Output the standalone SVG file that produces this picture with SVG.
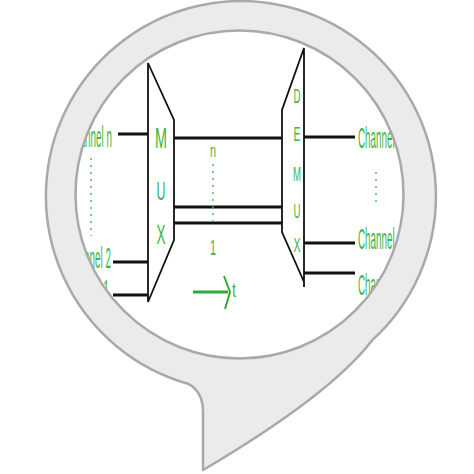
<svg xmlns="http://www.w3.org/2000/svg" width="474" height="474" viewBox="0 0 474 474">
<style>
.g{fill:#3db54a;font-family:"Liberation Sans",Arial,sans-serif}
.c{fill:#3db54a;font-family:"Liberation Sans",Arial,sans-serif;font-size:29px}
.w{stroke:#111;stroke-width:3.2;fill:none}
.m{stroke:#111;stroke-width:3;fill:none}
.o{stroke:#111;stroke-width:1.8;fill:none;stroke-linejoin:miter}
.d{stroke:#3db54a;stroke-width:1.3;stroke-dasharray:2 5;fill:none}
</style>
<defs>
<clipPath id="inner"><circle cx="239.5" cy="194.5" r="164"/></clipPath>
</defs>
<rect width="474" height="474" fill="#fff"/>
<g clip-path="url(#inner)">
<g id="mux">
<path class="o" d="M148,63 L174,120 L174,240 L148,302 Z"/>
<text class="g" font-size="29" x="155" y="148" textLength="12" lengthAdjust="spacingAndGlyphs">M</text>
<text class="g" font-size="25" x="156.5" y="200" textLength="9" lengthAdjust="spacingAndGlyphs">U</text>
<text class="g" font-size="27" x="156.5" y="244" textLength="9" lengthAdjust="spacingAndGlyphs">X</text>
</g>
<g id="demux">
<path class="o" d="M304,48 L282,110 L282,232 L304,282 Z M304,282 L304,287"/>
<text class="g" font-size="21" x="293.5" y="103" textLength="7" lengthAdjust="spacingAndGlyphs">D</text>
<text class="g" font-size="21" x="293.5" y="141" textLength="7" lengthAdjust="spacingAndGlyphs">E</text>
<text class="g" font-size="21" x="293" y="181" textLength="8" lengthAdjust="spacingAndGlyphs">M</text>
<text class="g" font-size="21" x="293.5" y="218" textLength="7" lengthAdjust="spacingAndGlyphs">U</text>
<text class="g" font-size="21" x="293.5" y="252" textLength="7" lengthAdjust="spacingAndGlyphs">X</text>
</g>
<g id="in-n"><text class="c" transform="translate(67,147) scale(0.34,1)">Channel n</text></g>
<g id="in-2"><text class="c" transform="translate(66,268) scale(0.34,1)">Channel 2</text></g>
<g id="in-1"><text class="c" transform="translate(64,300) scale(0.34,1)">Channel 1</text></g>
<g id="out-n"><text class="c" transform="translate(358,148) scale(0.34,1)">Channel n</text></g>
<g id="out-2"><text class="c" transform="translate(358,249) scale(0.34,1)">Channel 2</text></g>
<g id="out-1"><text class="c" transform="translate(358,295) scale(0.34,1)">Channel 1</text></g>
<g id="labels">
<text class="g" font-size="19" x="210" y="157" textLength="6" lengthAdjust="spacingAndGlyphs">n</text>
<text class="g" font-size="22" x="210" y="255" textLength="6" lengthAdjust="spacingAndGlyphs">1</text>
<text class="g" font-size="20" x="232" y="297" textLength="4" lengthAdjust="spacingAndGlyphs">t</text>
</g>
<g id="connectors">
<line class="w" x1="118" y1="134" x2="148" y2="134"/>
<line class="w" x1="113" y1="262" x2="148" y2="262"/>
<line class="w" x1="113" y1="295" x2="148" y2="295"/>
<line class="m" x1="174" y1="138" x2="282" y2="138"/>
<line class="m" x1="174" y1="207" x2="282" y2="207"/>
<line class="m" x1="174" y1="223" x2="282" y2="223"/>
<line class="w" x1="304" y1="137" x2="355" y2="137"/>
<line class="w" x1="304" y1="243" x2="355" y2="243"/>
<line class="w" x1="304" y1="273" x2="355" y2="273"/>
<line class="d" x1="91" y1="158" x2="91" y2="236"/>
<line class="d" x1="376" y1="172" x2="376" y2="204"/>
<line class="d" x1="213" y1="164" x2="213" y2="222"/>
<line stroke="#2eaa3a" stroke-width="3" x1="193" y1="292" x2="228" y2="292"/>
<polyline points="224,276 230,292 225,309" fill="none" stroke="#2eaa3a" stroke-width="2"/>
</g>
</g>
<g id="bubble">
<path fill="#ebebeb" fill-rule="evenodd" stroke="#a9a9a9" stroke-width="2.5" stroke-linejoin="round" d="M188,383.7 A195,195 0 1 1 372,340.4 Q330,395 203,470 L203,412 C203,398 198,389 188,383.7 Z M75.5,194.5 A164,164 0 1 0 403.5,194.5 A164,164 0 1 0 75.5,194.5 Z"/>
</g>
</svg>
